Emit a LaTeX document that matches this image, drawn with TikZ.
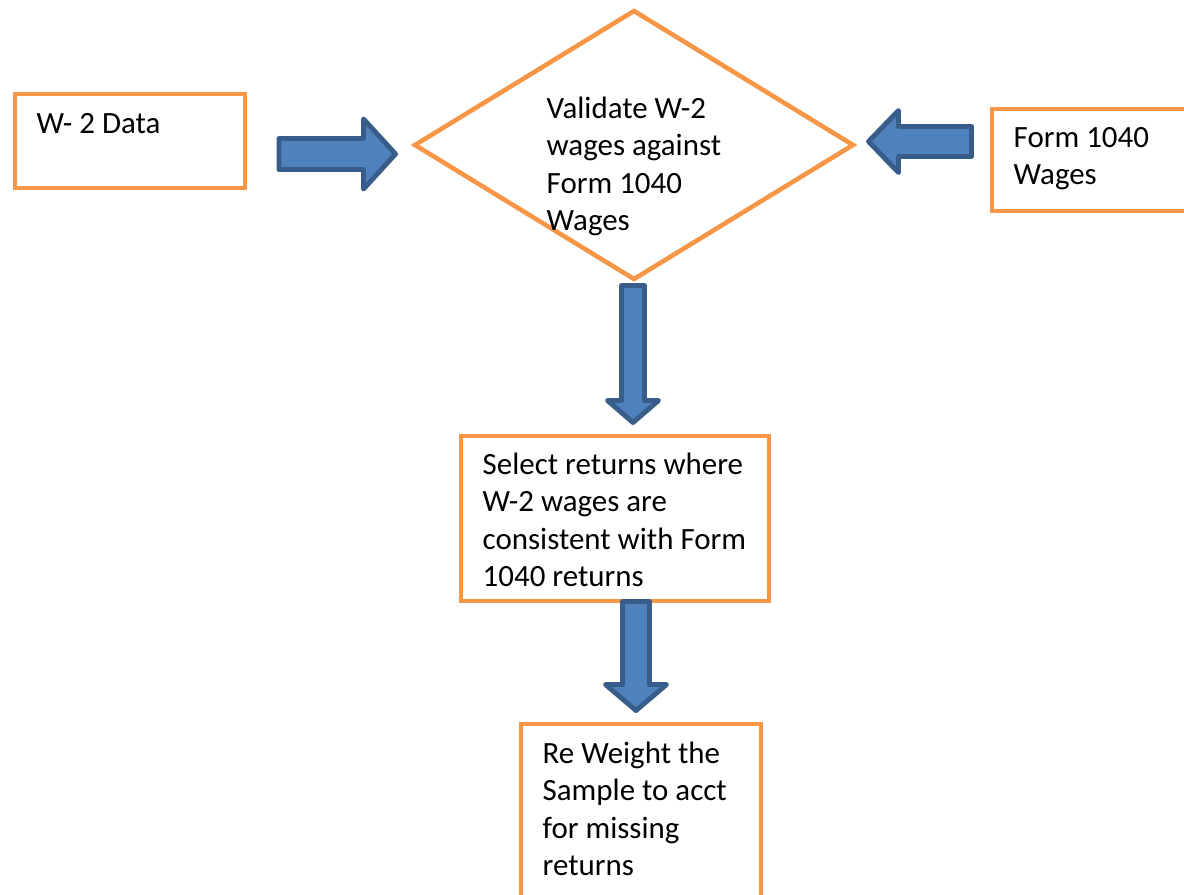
\documentclass[tikz,border=0pt]{standalone}
\usepackage{fontspec}
\setmainfont{Carlito}
\usepackage{tikz}
\usetikzlibrary{calc,shapes.geometric}
\definecolor{boxline}{HTML}{F79646}
\definecolor{arrowfill}{HTML}{4F81BD}
\definecolor{arrowline}{HTML}{385D8A}
\tikzset{
    box/.style={
        draw=boxline, line width=1.3pt, rectangle,
        anchor=north west, inner sep=0pt, outer sep=0pt
    },
    decision/.style={
        draw=boxline, line width=1.3pt, diamond,
        inner sep=0pt, outer sep=0pt,
        minimum width=4.38cm, minimum height=2.68cm
    },
    txt/.style={
        anchor=base west, inner sep=0pt,
        text width=3.2cm, text=black,
        font=\fontsize{8.8}{10.7}\selectfont,
        execute at begin node={\spaceskip=0pt\xspaceskip=0pt\relax}
    },
    blockarrow/.style n args={3}{
        draw=arrowline, fill=arrowfill, line width=1.4pt, line join=round,
        to path={
            ($(\tikztostart)!#1!90:(\tikztotarget)$) --
            ($(\tikztotarget)!#3!(\tikztostart)!#1!90:(\tikztotarget)$) --
            ($(\tikztotarget)!#3!(\tikztostart)!#2!90:(\tikztotarget)$) --
            (\tikztotarget) --
            ($(\tikztotarget)!#3!(\tikztostart)!#2!-90:(\tikztotarget)$) --
            ($(\tikztotarget)!#3!(\tikztostart)!#1!-90:(\tikztotarget)$) --
            ($(\tikztostart)!#1!-90:(\tikztotarget)$) -- cycle
        }
    }
}
\begin{document}
\begin{tikzpicture}
	\useasboundingbox (0,0) rectangle (11.84,-8.94);

	\node[box, minimum width=2.30cm, minimum height=0.94cm] (W2) at (0.15,-0.94) {};
	\node[decision] (Val) at (6.34,-1.45) {};
	\node[box, minimum width=2.20cm, minimum height=1.02cm] (Form) at (9.92,-1.09) {};
	\node[box, minimum width=3.08cm, minimum height=1.65cm] (Sel) at (4.61,-4.36) {};
	\node[box, minimum width=2.40cm, minimum height=2.00cm] (Rew) at (5.21,-7.24) {};

	\node[txt] (W2t) at ([shift={(0.21,-0.39)}]W2.north west) {W- 2 Data};
	\node[txt] (Valt) at (5.46,-1.18) {Validate W-2\\wages against\\Form 1040\\Wages};
	\node[txt] (Formt) at ([shift={(0.21,-0.38)}]Form.north west) {Form 1040\\Wages};
	\node[txt] (Selt) at ([shift={(0.21,-0.38)}]Sel.north west) {Select returns where\\W-2 wages are\\consistent with Form\\1040 returns};
	\node[txt] (Rewt) at ([shift={(0.21,-0.39)}]Rew.north west) {Re Weight the\\Sample to acct\\for missing\\returns};

	\coordinate (a1s) at (2.79,-1.54);   \coordinate (a1e) at (3.955,-1.54);
	\coordinate (a2s) at (9.715,-1.415); \coordinate (a2e) at (8.685,-1.415);
	\coordinate (a3s) at (6.33,-2.855);  \coordinate (a3e) at (6.33,-4.225);
	\coordinate (a4s) at (6.36,-6.015);  \coordinate (a4e) at (6.36,-7.105);

	\draw[blockarrow={0.155cm}{0.35cm}{0.32cm}] (a1s) to (a1e);
	\draw[blockarrow={0.15cm}{0.31cm}{0.30cm}] (a2s) to (a2e);
	\draw[blockarrow={0.115cm}{0.255cm}{0.22cm}] (a3s) to (a3e);
	\draw[blockarrow={0.135cm}{0.305cm}{0.26cm}] (a4s) to (a4e);
\end{tikzpicture}
\end{document}
